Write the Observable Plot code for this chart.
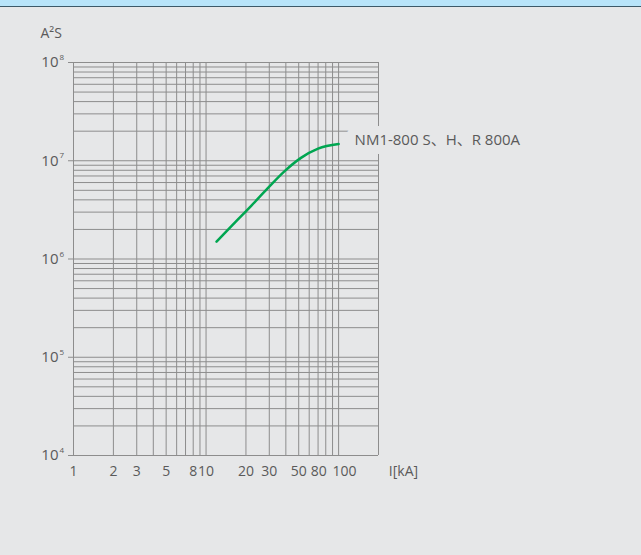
<!DOCTYPE html>
<html><head><meta charset="utf-8">
<script src="https://cdn.jsdelivr.net/npm/d3@7"></script>
<script src="https://cdn.jsdelivr.net/npm/@observablehq/plot@0.6"></script>
<style>
html,body{margin:0;padding:0;background:#e6e7e8;}
#wrap{position:relative;width:641px;height:555px;overflow:hidden;background:#e6e7e8;}
#hdr{position:absolute;left:0;top:0;width:641px;height:6px;background:#b8e4f9;border-bottom:1px solid #3d5968;z-index:2;}
#chart{position:absolute;left:0;top:0;}
</style></head><body>
<div id="wrap"><div id="hdr"></div><div id="chart"></div></div>
<script>
// Data
const curveCurrent = [12, 16, 22, 29, 39, 52, 70, 100];              // kA
const curveEnergy  = [1.5e6, 2.25e6, 3.5e6, 5.2e6, 7.8e6, 1.07e7, 1.33e7, 1.48e7]; // A²s
const seriesName = "NM1-800 S、H、R 800A";
const xGrid = [1,2,3,4,5,6,7,8,9,10,20,30,40,50,60,70,80,90,100,200];
const xTickLabels = [1,2,3,5,8,10,20,30,50];
const xTickLabelsCrowdedLeft = [80];
const xTickLabelsCrowdedRight = [100];
const yDecades = [1e4,1e5,1e6,1e7,1e8];
const yExponents = ["4","5","6","7","8"];
const yMantissas = [1,2,3,4,5,6,7,8,9];
const xTitle = "I[kA]";
const yTitle = "A²S";

const yGrid = yDecades.flatMap(d => d === 1e8 ? [d] : yMantissas.map(m => m * d));
const data = curveCurrent.map((x, i) => ({x, y: curveEnergy[i]}));
const expData = yDecades.map((d, i) => ({y: d, e: yExponents[i]}));

const ink = "#5a5a5a", gridC = "#8d8d8d", bg = "#e6e7e8";
const font = "'Open Sans','Noto Sans CJK SC',sans-serif";
const xLab = {frameAnchor: "bottom", dy: 11, lineAnchor: "top", fontSize: 14, fill: ink};

const chart = Plot.plot({
  width: 641, height: 555,
  marginLeft: 73, marginRight: 263, marginTop: 62, marginBottom: 100,
  x: {type: "log", domain: [1, 200], axis: null},
  y: {type: "log", domain: [1e4, 1e8], axis: null},
  style: {background: "transparent", fontFamily: font, color: ink},
  marks: [
    Plot.ruleX(xGrid, {stroke: gridC, strokeWidth: 1}),
    Plot.ruleY(yGrid, {stroke: gridC, strokeWidth: 1}),
    Plot.axisY({ticks: yDecades, tickFormat: () => "10", tickSize: 5, tickPadding: 10,
      fontSize: 15, stroke: gridC, fill: ink, label: null}),
    Plot.text(expData, {y: "y", text: "e", frameAnchor: "left", dx: -14, dy: -5,
      textAnchor: "start", fontSize: 8, fill: ink}),
    Plot.text(xTickLabels, {x: d => d, text: d => String(d), textAnchor: "middle", ...xLab}),
    Plot.text(xTickLabelsCrowdedLeft, {x: d => d, text: d => String(d), textAnchor: "end", dx: 1, ...xLab}),
    Plot.text(xTickLabelsCrowdedRight, {x: d => d, text: d => String(d), textAnchor: "middle", dx: 6, ...xLab}),
    Plot.text([xTitle], {text: d => d, frameAnchor: "bottom-right", dx: 25, dy: 11,
      lineAnchor: "top", textAnchor: "middle", fontSize: 14, fill: ink}),
    Plot.text([yTitle], {text: d => d, frameAnchor: "top-left", dx: -33, dy: -34,
      textAnchor: "start", fontSize: 14, fill: ink}),
    Plot.line(data, {x: "x", y: "y", stroke: "#00a651", strokeWidth: 2.5, curve: "monotone-x"}),
    Plot.text([data[data.length - 1]], {x: "x", y: "y", text: () => seriesName,
      dx: 16, dy: -4, textAnchor: "start", fontSize: 15, fill: ink,
      stroke: bg, strokeWidth: 18})
  ]
});
document.getElementById("chart").appendChild(chart);
</script>
</body></html>
